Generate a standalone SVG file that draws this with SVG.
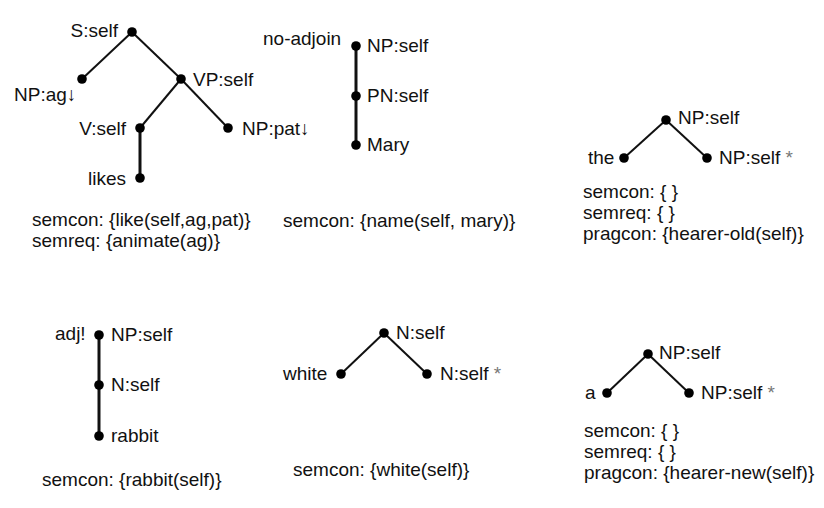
<svg xmlns="http://www.w3.org/2000/svg" width="824" height="508" viewBox="0 0 824 508">
<style>
text{font-family:"Liberation Sans",Arial,sans-serif;font-size:19px;fill:#111}
.e{text-anchor:end}
.star{fill:#777}
line{stroke:#111;stroke-width:2}
.v{stroke-width:3}
circle{fill:#000}
</style>
<defs><circle id="d" r="4.8"/></defs>
<g id="connectors">
<line x1="132" y1="32" x2="82" y2="79"/>
<line x1="132" y1="32" x2="181" y2="79"/>
<line x1="181" y1="79" x2="140" y2="128"/>
<line x1="181" y1="79" x2="228" y2="128"/>
<line class="v" x1="140" y1="128" x2="140" y2="178"/>
<line class="v" x1="356" y1="46" x2="356" y2="145"/>
<line x1="666" y1="120" x2="624" y2="158"/>
<line x1="666" y1="120" x2="707" y2="158"/>
<line class="v" x1="99" y1="335" x2="99" y2="436"/>
<line x1="384" y1="333" x2="341" y2="374"/>
<line x1="384" y1="333" x2="427" y2="374"/>
<line x1="648" y1="354" x2="607" y2="393"/>
<line x1="648" y1="354" x2="689" y2="393"/>
</g>
<g id="n-s"><use href="#d" x="132" y="32"/><text class="e" x="118" y="37">S:self</text></g>
<g id="n-npag"><use href="#d" x="82" y="79"/><text x="14" y="101">NP:ag↓</text></g>
<g id="n-vp"><use href="#d" x="181" y="79"/><text x="193" y="86">VP:self</text></g>
<g id="n-v"><use href="#d" x="140" y="128"/><text class="e" x="126" y="135">V:self</text></g>
<g id="n-nppat"><use href="#d" x="228" y="128"/><text x="242" y="135">NP:pat↓</text></g>
<g id="n-likes"><use href="#d" x="140" y="178"/><text class="e" x="126" y="185">likes</text></g>
<g id="c-like"><text x="32" y="226">semcon: {like(self,ag,pat)}</text><text x="32" y="247">semreq: {animate(ag)}</text></g>

<g id="n-np-mary"><use href="#d" x="356" y="46"/><text x="263" y="45">no-adjoin</text><text x="367" y="52">NP:self</text></g>
<g id="n-pn"><use href="#d" x="356" y="96"/><text x="367" y="102">PN:self</text></g>
<g id="n-mary"><use href="#d" x="356" y="145"/><text x="367" y="151">Mary</text></g>
<g id="c-mary"><text x="283" y="227">semcon: {name(self, mary)}</text></g>

<g id="n-np-the"><use href="#d" x="666" y="120"/><text x="678" y="124">NP:self</text></g>
<g id="n-the"><use href="#d" x="624" y="158"/><text x="588" y="164">the</text></g>
<g id="n-npfoot-the"><use href="#d" x="707" y="158"/><text x="719" y="164">NP:self <tspan class="star">*</tspan></text></g>
<g id="c-the"><text x="583" y="198">semcon: { }</text><text x="583" y="219">semreq: { }</text><text x="583" y="240">pragcon: {hearer-old(self)}</text></g>

<g id="n-np-rabbit"><use href="#d" x="99" y="335"/><text x="55" y="340">adj!</text><text x="111" y="341">NP:self</text></g>
<g id="n-n-rabbit"><use href="#d" x="99" y="385"/><text x="111" y="391">N:self</text></g>
<g id="n-rabbit"><use href="#d" x="99" y="436"/><text x="111" y="442">rabbit</text></g>
<g id="c-rabbit"><text x="42" y="486">semcon: {rabbit(self)}</text></g>

<g id="n-n-white"><use href="#d" x="384" y="333"/><text x="396" y="339">N:self</text></g>
<g id="n-white"><use href="#d" x="341" y="374"/><text x="283" y="380">white</text></g>
<g id="n-nfoot-white"><use href="#d" x="427" y="374"/><text x="440" y="380">N:self <tspan class="star">*</tspan></text></g>
<g id="c-white"><text x="293" y="476">semcon: {white(self)}</text></g>

<g id="n-np-a"><use href="#d" x="648" y="354"/><text x="659" y="359">NP:self</text></g>
<g id="n-a"><use href="#d" x="607" y="393"/><text x="585" y="399">a</text></g>
<g id="n-npfoot-a"><use href="#d" x="689" y="393"/><text x="701" y="399">NP:self <tspan class="star">*</tspan></text></g>
<g id="c-a"><text x="584" y="437">semcon: { }</text><text x="584" y="458">semreq: { }</text><text x="584" y="479">pragcon: {hearer-new(self)}</text></g>
</svg>
